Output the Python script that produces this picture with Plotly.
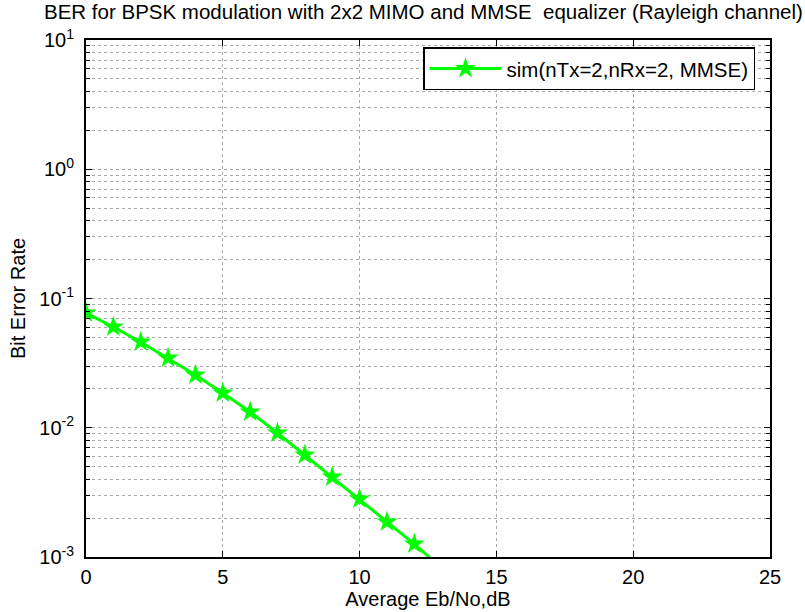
import plotly.graph_objects as go

eb_no_db = [0, 1, 2, 3, 4, 5, 6, 7, 8, 9, 10, 11, 12, 13]
ber_sim = [0.0773, 0.0602, 0.0461, 0.0346, 0.0256, 0.01857, 0.01324, 0.00911,
           0.00615, 0.00416, 0.00281, 0.00187, 0.00126, 0.00082]
series_name = "sim(nTx=2,nRx=2, MMSE)"
y_tick_vals = [1e-3, 1e-2, 1e-1, 1e0, 1e1]
y_tick_text = ["10<sup>-3</sup>", "10<sup>-2</sup>", "10<sup>-1</sup>", "10<sup>0</sup>", "10<sup>1</sup>"]
x_tick_vals = [0, 5, 10, 15, 20, 25]

FONT = "Liberation Sans, Arial, sans-serif"

fig = go.Figure()
fig.add_trace(go.Scatter(
    x=eb_no_db, y=ber_sim, mode="lines+markers", name=series_name,
    line=dict(color="#00ff00", width=3),
    marker=dict(symbol="star", size=16, color="#00ff00", line=dict(width=0)),
))

grid_col = "#a8a8a8"
fig.update_layout(
    width=805, height=612,
    margin=dict(l=86, r=35, t=40, b=55),
    paper_bgcolor="white", plot_bgcolor="white",
    font=dict(family=FONT, size=20, color="black"),
    title=dict(text="BER for BPSK modulation with 2x2 MIMO and MMSE&nbsp; equalizer (Rayleigh channel)",
               x=0.526, xanchor="center", y=0.980, yanchor="middle",
               font=dict(family=FONT, size=20.5, color="black")),
    showlegend=True,
    legend=dict(x=0.4927, xanchor="left", y=0.986, yanchor="top",
                bgcolor="white", bordercolor="black", borderwidth=1.5,
                font=dict(family=FONT, size=20.5), itemwidth=72),
    xaxis=dict(range=[0, 25], tickvals=x_tick_vals, ticks="inside", ticklen=6,
               tickcolor="black", ticklabelstandoff=1, automargin=False,
               showline=True, linecolor="black", linewidth=2, mirror="ticks",
               showgrid=True, gridcolor=grid_col, griddash="dot", gridwidth=1,
               zeroline=False, tickfont=dict(size=20),
               title=dict(text="Average Eb/No,dB", standoff=4, font=dict(size=20))),
    yaxis=dict(type="log", range=[-3, 1], tickvals=y_tick_vals, ticktext=y_tick_text,
               ticks="inside", ticklen=6, tickcolor="black", ticklabelstandoff=6,
               automargin=False,
               showline=True, linecolor="black", linewidth=2, mirror="ticks",
               showgrid=True, gridcolor=grid_col, griddash="dot", gridwidth=1,
               zeroline=False, tickfont=dict(size=20),
               minor=dict(dtick="D1", ticks="inside", ticklen=4, showgrid=True,
                          gridcolor=grid_col, griddash="dot", gridwidth=1, tickcolor="black"),
               title=dict(text="Bit Error Rate", standoff=8, font=dict(size=20))),
)

fig.write_html("out.html", config={"displayModeBar": False},
               post_script="document.body.style.margin='0';")
